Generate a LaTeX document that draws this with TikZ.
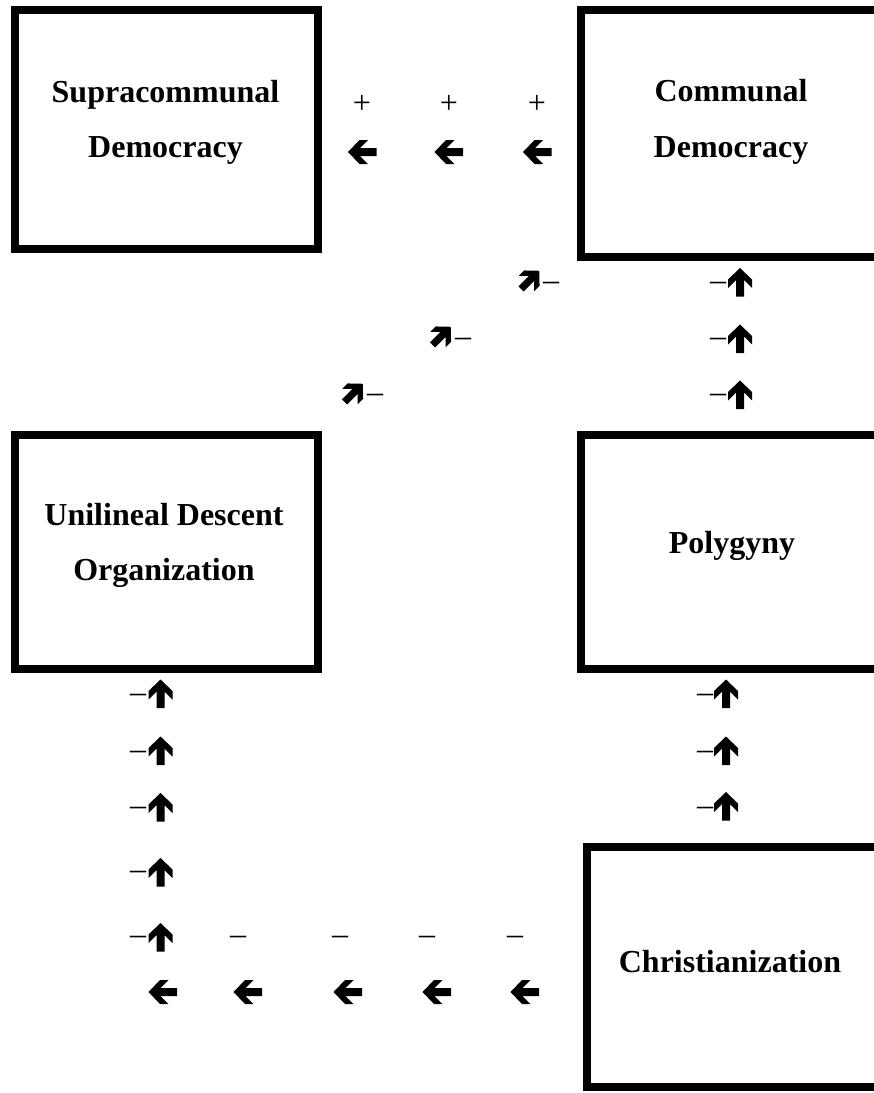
\documentclass[tikz,border=0pt]{standalone}
\usepackage{fontspec}
\setmainfont{Liberation Serif}
\begin{document}
\begin{tikzpicture}[x=1pt,y=-1pt]
\tikzset{
  box/.style={draw, line width=8.5pt, minimum width=303pt, inner sep=0pt, outer sep=0pt},
  lbl/.style={font=\fontsize{32}{38}\selectfont\bfseries, anchor=base, inner sep=0pt},
  sign/.style={font=\fontsize{32}{38}\selectfont, anchor=base, inner sep=0pt},
  fat/.pic={\fill (14.5,0) -- (3,12) -- (-5.5,12) -- (2.5,4) -- (-14,4) -- (-14,-4) -- (2.5,-4) -- (-5.5,-12) -- (3,-12) -- cycle;}
}
\useasboundingbox (0,0) rectangle (874,1093);
\clip (0,0) rectangle (874,1093);
% boxes
\node[box, minimum height=239pt] (supra) at (166.5,129.5) {};
\node[box, minimum height=247pt] (comm) at (732.5,133.5) {};
\node[box, minimum height=234pt] (uni) at (166.5,552) {};
\node[box, minimum height=234pt] (poly) at (732.5,552) {};
\node[box, minimum height=240pt] (chr) at (738.5,967) {};
% labels
\node[lbl] (supra1) at (165.5,102) {Supracommunal};
\node[lbl] (supra2) at (165.5,157) {Democracy};
\node[lbl] (comm1) at (731,101) {Communal};
\node[lbl] (comm2) at (731,157) {Democracy};
\node[lbl] (uni1) at (164,525) {Unilineal Descent};
\node[lbl] (uni2) at (164,580) {Organization};
\node[lbl] (poly1) at (732,553) {Polygyny};
\node[lbl] (chr1) at (730,972) {Christianization};
% top row: plus signs and left arrows
\foreach \x [count=\i] in {362,449,537} {
  \node[sign] (p\i) at (\x,113) {+};
}
\foreach \x in {362.5,449,537.5} {
  \pic[rotate=180] at (\x,152) {fat};
}
% right upper column
\foreach \y [count=\i] in {283,339,395} {
  \node[sign] (ru\i) at (718,\y+7.5) {–};
}
\foreach \y in {282.5,339,395} {
  \pic[rotate=90] at (740,\y) {fat};
}
% diagonal
\node[sign] (d1) at (551,290.5) {–};
\node[sign] (d2) at (463,346.5) {–};
\node[sign] (d3) at (375,402.5) {–};
\pic[rotate=45, scale=0.9] at (530,280) {fat};
\pic[rotate=45, scale=0.9] at (441.5,336) {fat};
\pic[rotate=45, scale=0.9] at (353.5,393) {fat};
% right lower column
\foreach \y [count=\i] in {695,752,808} {
  \node[sign] (rl\i) at (705,\y+7.5) {–};
}
\foreach \y in {694,751,806.5} {
  \pic[rotate=90] at (726,\y) {fat};
}
% left column
\foreach \y [count=\i] in {695,752,808,872,937} {
  \node[sign] (lc\i) at (138,\y+7.5) {–};
}
\foreach \y in {694,751,807.5,872.5,937.5} {
  \pic[rotate=90] at (160.5,\y) {fat};
}
% bottom row
\foreach \x [count=\i] in {238,340,427,515} {
  \node[sign] (b\i) at (\x,944.5) {–};
}
\foreach \x in {163,248,348,437,525} {
  \pic[rotate=180] at (\x,992) {fat};
}
\end{tikzpicture}
\end{document}
